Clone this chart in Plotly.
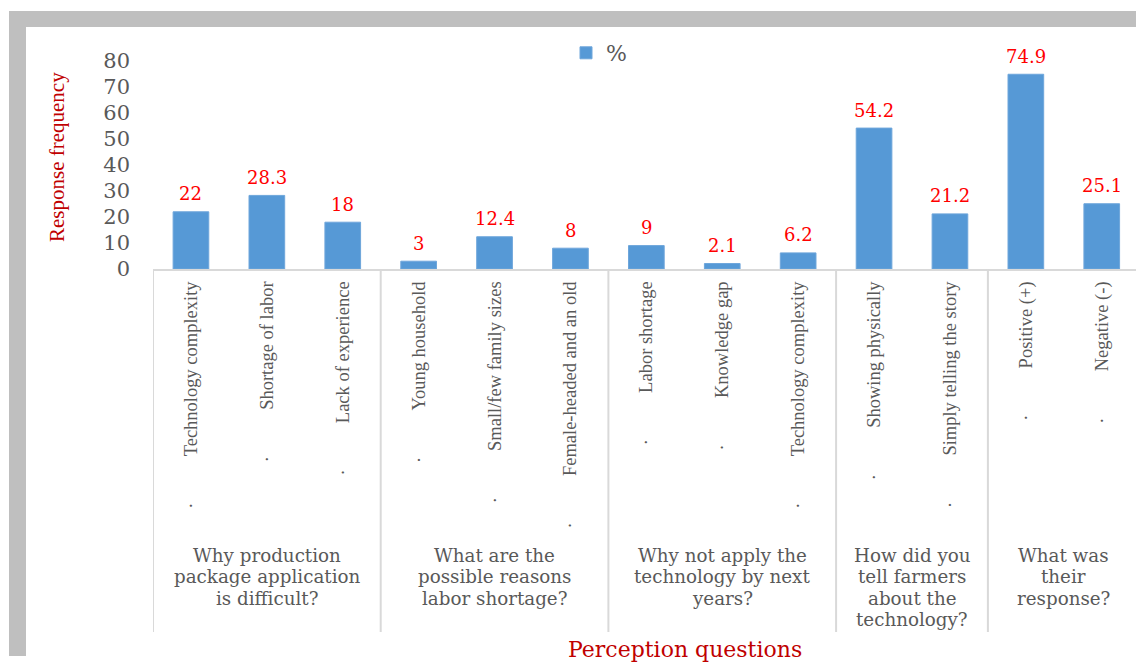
import plotly.graph_objects as go

# ---------------- data ----------------
categories = [
    "Technology complexity", "Shortage of labor", "Lack of experience",
    "Young household", "Small/few family sizes", "Female-headed and an old",
    "Labor shortage", "Knowledge gap", "Technology complexity",
    "Showing physically", "Simply telling the story",
    "Positive (+)", "Negative (-)",
]
values = [22, 28.3, 18, 3, 12.4, 8, 9, 2.1, 6.2, 54.2, 21.2, 74.9, 25.1]
group_labels = [
    "Why production<br>package application<br>is difficult?",
    "What are the<br>possible reasons<br>labor shortage?",
    "Why not apply the<br>technology by next<br>years?",
    "How did you<br>tell farmers<br>about the<br>technology?",
    "What was<br>their<br>response?",
]
group_sizes = [3, 3, 3, 2, 2]
y_ticks = [0, 10, 20, 30, 40, 50, 60, 70, 80]
series_name = "%"
y_title = "Response frequency"
x_title = "Perception questions"

# ---------------- layout geometry (pixels) ----------------
W, H = 1136, 664
L, R, T, B = 153, 1136, 61, 269
CAT_W = 75.9

def xp(px):
    return (px - L) / (R - L)

def yp(py):
    return (B - py) / (B - T)

GRAY = "#595959"
SERIF_W = "DejaVu Serif"
SERIF_N = "Liberation Serif"

x = list(range(len(categories)))
ticktext = ["\u00b7" + "\u00a0" * 10 + c for c in categories]

fig = go.Figure()
fig.add_trace(go.Bar(
    x=x, y=values, name=series_name, width=0.47,
    marker=dict(color="#5699D6", line=dict(color="#6EA6DB", width=1)),
    showlegend=True,
))

annotations = []
# data labels
for xi, v in zip(x, values):
    annotations.append(dict(
        x=xi, y=v, xref="x", yref="y", text=f"{v:g}", showarrow=False,
        yanchor="middle", yshift=18,
        font=dict(family=SERIF_W, size=18, color="#FF0000"),
    ))

# group labels and dividers
shapes = []
start = 0
bounds = [-0.5]
for lab, n in zip(group_labels, group_sizes):
    center = start + (n - 1) / 2
    for k, line in enumerate(lab.split("<br>")):
        annotations.append(dict(
            x=center, xref="x", y=yp(555 + 21.5 * k), yref="paper",
            text=line, showarrow=False, xanchor="center", yanchor="middle",
            borderpad=0,
            font=dict(family=SERIF_W, size=18.3, color=GRAY),
        ))
    start += n
    bounds.append(start - 0.5)
for b in bounds:
    shapes.append(dict(type="line", xref="x", yref="paper", x0=b, x1=b,
                       y0=0, y1=yp(632), line=dict(color="#D9D9D9", width=2)))

# frame
shapes.append(dict(type="rect", xref="paper", yref="paper", layer="below",
                   x0=xp(9), x1=xp(1136), y0=yp(11), y1=yp(27),
                   fillcolor="#BFBFBF", line=dict(width=0)))
shapes.append(dict(type="rect", xref="paper", yref="paper", layer="below",
                   x0=xp(9), x1=xp(26), y0=yp(11), y1=yp(656),
                   fillcolor="#BFBFBF", line=dict(width=0)))

# axis titles
annotations.append(dict(
    x=xp(57), y=yp(157), xref="paper", yref="paper", text=y_title,
    textangle=-90, showarrow=False, xanchor="center", yanchor="middle",
    font=dict(family=SERIF_N, size=21, color="#C00000"),
))
annotations.append(dict(
    x=xp(685), y=yp(663), xref="paper", yref="paper", text=x_title,
    showarrow=False, xanchor="center", yanchor="bottom", borderpad=0,
    font=dict(family=SERIF_W, size=22, color="#C00000"),
))

fig.update_layout(
    width=W, height=H,
    margin=dict(l=L, r=W - R, t=T, b=H - B, pad=0),
    paper_bgcolor="white", plot_bgcolor="white",
    bargap=0.53,
    showlegend=True,
    legend=dict(orientation="h", x=xp(566), xanchor="left", y=yp(53),
                yanchor="middle", font=dict(family=SERIF_W, size=22, color=GRAY),
                bgcolor="rgba(0,0,0,0)", itemwidth=30),
    xaxis=dict(range=[-0.5, -0.5 + (R - L) / CAT_W], tickvals=x, ticktext=ticktext,
               tickangle=-90, showline=True, linecolor="#D9D9D9", linewidth=2,
               showgrid=False, zeroline=False, ticks="",
               tickfont=dict(family=SERIF_N, size=18.5, color=GRAY),
               ticklabelstandoff=3),
    yaxis=dict(range=[0, 80], tickvals=y_ticks, showgrid=False, zeroline=False,
               showline=False, ticks="",
               tickfont=dict(family=SERIF_W, size=21, color=GRAY),
               ticklabelstandoff=22),
    annotations=annotations,
    shapes=shapes,
)

fig.write_html("out.html")
